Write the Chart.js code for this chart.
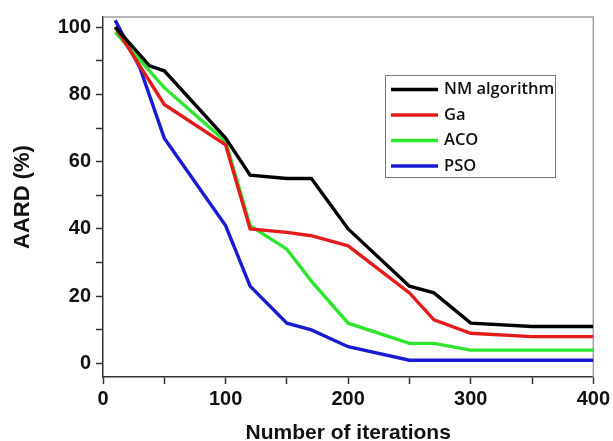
<!DOCTYPE html>
<html lang="en">
<head>
<meta charset="UTF-8">
<title>AARD vs iterations</title>
<script src="https://cdn.jsdelivr.net/npm/chart.js@4.4.0/dist/chart.umd.min.js"></script>
<style>
  html, body { margin: 0; padding: 0; background: #fff; }
  #wrap { width: 613px; height: 441px; position: relative; }
</style>
</head>
<body>
<div id="wrap"><canvas id="chart"></canvas></div>
<script>
// values
const nmIter  = [10, 38, 50, 100, 120, 150, 170, 200, 250, 270, 300, 350, 400];
const nmAard  = [100, 88.5, 87, 67, 56, 55, 55, 40, 23, 21, 12, 11, 11];

const gaIter  = [10, 50, 100, 120, 150, 170, 200, 250, 270, 300, 350, 400];
const gaAard  = [100, 77, 65, 40, 39, 38, 35, 21, 13, 9, 8, 8];

const acoIter = [10, 50, 100, 120, 150, 170, 200, 250, 270, 300, 350, 400];
const acoAard = [98.5, 82, 66, 41, 34, 24.5, 12, 6, 6, 4, 4, 4];

const psoIter = [10, 30, 50, 100, 120, 150, 170, 200, 250, 300, 350, 400];
const psoAard = [102, 88, 67, 41, 23, 12, 10, 5, 1, 1, 1, 1];

const xTicks = [0, 100, 200, 300, 400];
const yTicks = [0, 20, 40, 60, 80, 100];

const toPoints = (xs, ys) => xs.map((x, i) => ({ x: x, y: ys[i] }));

const tickFont = { family: 'Liberation Sans, Arial, sans-serif', size: 20, weight: 'bold' };

// frame + legend box drawn on top of the plot
const framePlugin = {
  id: 'frame',
  beforeDatasetsDraw(chart) {
    const { ctx, chartArea: a } = chart;
    ctx.save();
    ctx.strokeStyle = '#a0a0a0';
    ctx.lineWidth = 1.5;
    ctx.beginPath();
    ctx.moveTo(a.left, a.top);
    ctx.lineTo(a.right, a.top);
    ctx.lineTo(a.right, a.bottom);
    ctx.stroke();
    ctx.restore();
  },
  afterDraw(chart) {
    const ctx = chart.ctx;
    const bx = 385, by = 75, bw = 170, bh = 102;
    ctx.save();
    ctx.fillStyle = '#fff';
    ctx.fillRect(bx, by, bw, bh);
    ctx.strokeStyle = '#777';
    ctx.lineWidth = 1;
    ctx.strokeRect(bx + 0.5, by + 0.5, bw, bh);
    ctx.font = '600 16.5px "Open Sans", sans-serif';
    ctx.textBaseline = 'middle';
    chart.data.datasets.forEach((ds, i) => {
      const y = 89.5 + i * 25.5;
      ctx.strokeStyle = ds.borderColor;
      ctx.lineWidth = 3.4;
      ctx.beginPath();
      ctx.moveTo(391, y);
      ctx.lineTo(438, y);
      ctx.stroke();
      ctx.fillStyle = '#111';
      ctx.fillText(ds.label, 444, y);
    });
    ctx.restore();
  }
};

new Chart(document.getElementById('chart'), {
  type: 'line',
  data: {
    datasets: [
      { label: 'NM algorithm', data: toPoints(nmIter, nmAard), borderColor: '#000000' },
      { label: 'Ga', data: toPoints(gaIter, gaAard), borderColor: '#e31b1b' },
      { label: 'ACO', data: toPoints(acoIter, acoAard), borderColor: '#2ee62e' },
      { label: 'PSO', data: toPoints(psoIter, psoAard), borderColor: '#1a1ad0' }
    ]
  },
  options: {
    responsive: true,
    maintainAspectRatio: false,
    animation: false,
    layout: { padding: { top: 14, right: 19, left: 0, bottom: 0 } },
    elements: {
      line: { borderWidth: 3.4, tension: 0, fill: false },
      point: { radius: 0 }
    },
    plugins: {
      legend: { display: false },
      tooltip: { enabled: false }
    },
    scales: {
      x: {
        type: 'linear',
        min: 0,
        max: 400,
        afterBuildTicks: s => { s.ticks = [0, 50, 100, 150, 200, 250, 300, 350, 400].map(v => ({ value: v })); },
        afterFit: s => { s.height = 64; },
        ticks: {
          autoSkip: false,
          maxRotation: 0,
          padding: 3,
          color: '#111',
          font: tickFont,
          callback: v => xTicks.includes(v) ? v : ''
        },
        grid: { drawOnChartArea: false, tickLength: 7, tickWidth: 1.5, color: '#333' },
        border: { color: '#333', width: 1.5 },
        title: {
          display: true,
          text: 'Number of iterations',
          color: '#111',
          font: { family: 'Liberation Sans, Arial, sans-serif', size: 21, weight: 'bold', lineHeight: 1 },
          padding: { top: 0, bottom: -3 }
        }
      },
      y: {
        min: -4,
        max: 103,
        afterBuildTicks: s => { s.ticks = [0, 10, 20, 30, 40, 50, 60, 70, 80, 90, 100].map(v => ({ value: v })); },
        afterFit: s => { s.width = 103; },
        ticks: {
          padding: 5,
          color: '#111',
          font: tickFont,
          callback: v => yTicks.includes(v) ? v : ''
        },
        grid: { drawOnChartArea: false, tickLength: 7, tickWidth: 1.5, color: '#333' },
        border: { color: '#333', width: 1.5 },
        title: {
          display: true,
          text: 'AARD (%)',
          color: '#111',
          font: { family: 'Liberation Sans, Arial, sans-serif', size: 22, weight: 'bold', lineHeight: 1.2 },
          padding: { top: 10, bottom: 0 }
        }
      }
    }
  },
  plugins: [framePlugin]
});
</script>
</body>
</html>
